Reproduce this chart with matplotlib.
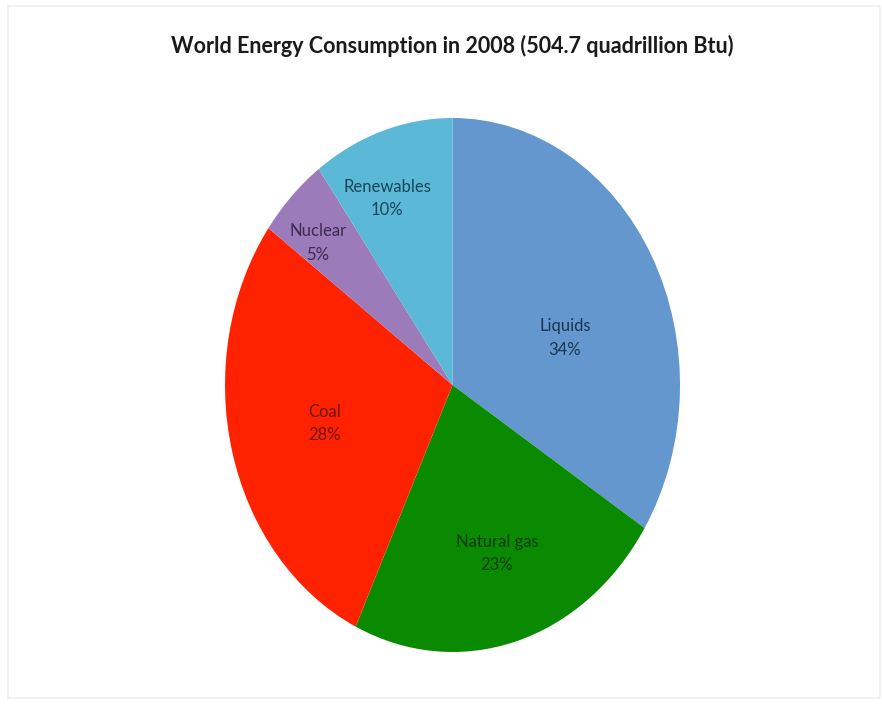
import numpy as np
import matplotlib
matplotlib.use("Agg")
import matplotlib.pyplot as plt

# World energy consumption 2008, shares in %
sources = ["Liquids", "Natural gas", "Coal", "Nuclear", "Renewables"]
shares = [34, 23, 28, 5, 10]

colors = ["#6497cd", "#0a8a00", "#ff2200", "#9c7bbb", "#5bb8d6"]
text_colors = ["#1c3553", "#0b3a08", "#6e1208", "#3b2a52", "#17455a"]
# label placement: radius and angle shift from the wedge middle
label_r = [0.525, 0.66, 0.58, 0.795, 0.755]
label_shift = [-9.2, 1.0, 0.0, 3.0, 4.4]

plt.rcParams["font.family"] = ["Lato", "DejaVu Sans"]

fig = plt.figure(figsize=(8.82, 7.07), dpi=100)
W, H = 882, 707

# faint outer frame
frame = fig.add_axes([8 / W, 1 - 698 / H, 872 / W, 692 / H])
frame.set_xticks([])
frame.set_yticks([])
for s in frame.spines.values():
    s.set_color("#eeeeee")
    s.set_linewidth(1.2)
frame.patch.set_alpha(0)

fig.text(452 / W, 1 - 46 / H, "World Energy Consumption in 2008 (504.7 quadrillion Btu)",
         ha="center", va="center", fontsize=15.5, fontweight="bold", color="#1a1a1a")

# pie drawn in a stretched axes so it comes out as an ellipse
ax = fig.add_axes([225 / W, 1 - 652 / H, 455 / W, 534 / H])
wedges, _ = ax.pie(shares, colors=colors, startangle=90, counterclock=False,
                   wedgeprops=dict(linewidth=0))
ax.set_aspect("auto")
ax.set_xlim(-1, 1)
ax.set_ylim(-1, 1)

for w, name, val, tc, r, sh in zip(wedges, sources, shares, text_colors, label_r, label_shift):
    ang = np.deg2rad((w.theta1 + w.theta2) / 2 + sh)
    ax.text(r * np.cos(ang), r * np.sin(ang), f"{name}\n{val}%", ha="center", va="center",
            fontsize=12, color=tc, linespacing=1.55)

fig.savefig("out.png", dpi=100)
